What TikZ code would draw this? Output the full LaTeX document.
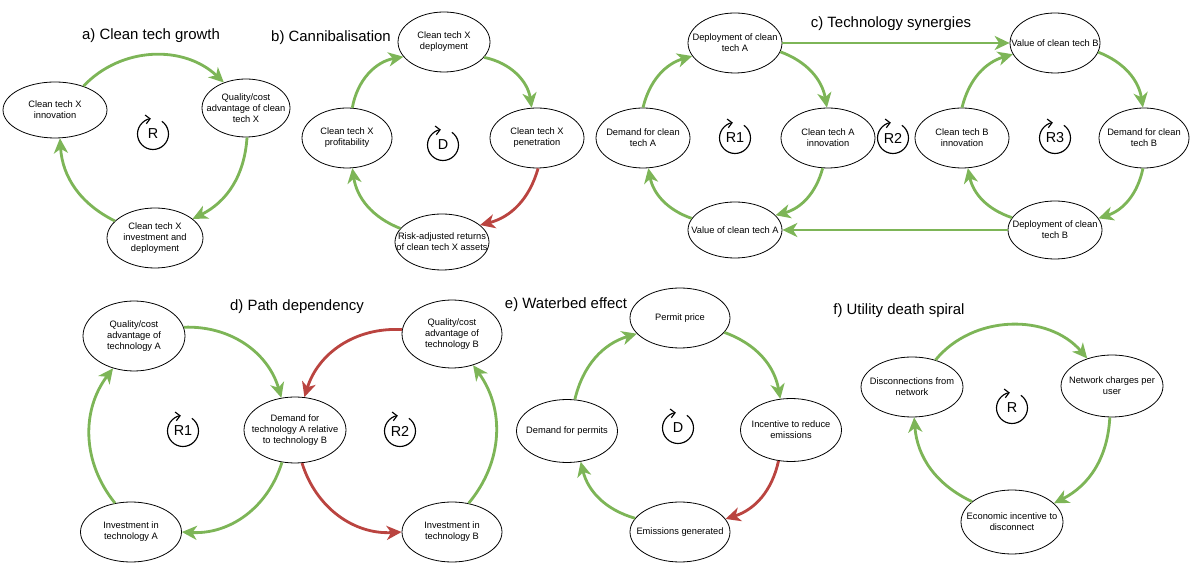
\documentclass[tikz,border=0pt]{standalone}
\usepackage{fontspec}
\setmainfont{Liberation Sans}
\usetikzlibrary{shapes.geometric,arrows.meta}
\definecolor{posgreen}{RGB}{125,181,87}
\definecolor{negred}{RGB}{186,68,64}
\newcommand{\nodefont}{\fontsize{5.3}{6.2}\selectfont}
\newcommand{\titlefont}{\fontsize{8.5}{10}\selectfont}

\begin{document}
\begin{tikzpicture}[x=0.02cm,y=-0.02cm]
\tikzstyle{var}=[ellipse,draw,line width=0.45pt,inner xsep=-8pt,inner ysep=-6pt,align=center,font=\nodefont,minimum width=1.88cm,minimum height=1.2cm]
\tikzstyle{poslink}=[draw=posgreen,line width=1.6pt,-{Stealth[length=8.5pt,width=8pt,inset=2.5pt]}]
\tikzstyle{neglink}=[poslink,draw=negred]
\tikzstyle{paneltitle}=[font=\titlefont,inner sep=0pt]
\tikzstyle{loopsign}=[font=\fontsize{8.2}{9}\selectfont,inner sep=0pt]
\tikzstyle{loopline}=[line width=0.65pt,-{Straight Barb[length=2.5pt,width=5pt]}]
\useasboundingbox (0,0) rectangle (1190,563);

% a) clean tech growth
\node[paneltitle] (ta) at (151,36) {a) Clean tech growth};
\node[var,minimum width=2.08cm,minimum height=1.12cm] (ainn) at (55,110) {Clean tech X\\innovation};
\node[var,minimum width=1.76cm,minimum height=1.16cm] (aqual) at (246,108) {Quality/cost\\advantage of clean\\tech X};
\node[var,minimum width=1.92cm] (ainv) at (155,238) {Clean tech X\\investment and\\deployment};
\node[loopsign] (la) at (153,134) {R};
\draw[loopline] (la.center) ++(55:0.31cm) arc[start angle=55,end angle=-262,radius=0.31cm];
\draw[poslink] (ainn.40) to[bend left=45] (aqual.131);
\draw[poslink] (aqual.-88) to[bend left=30] (ainv.27);
\draw[poslink] (ainv.157) to[bend left=30] (ainn.-80);

% b) cannibalisation
\node[paneltitle] (tb) at (331,38) {b) Cannibalisation};
\node[var,minimum width=1.84cm] (bdep) at (444,42) {Clean tech X\\deployment};
\node[var,minimum width=1.80cm] (bprof) at (347,138) {Clean tech X\\profitability};
\node[var] (bpen) at (537,138) {Clean tech X\\penetration};
\node[var,minimum height=1.12cm] (brisk) at (442,242) {Risk-adjusted returns\\of clean tech X assets};
\node[loopsign] (lb) at (443,145) {D};
\draw[loopline] (lb.center) ++(55:0.31cm) arc[start angle=55,end angle=-262,radius=0.31cm];
\draw[poslink] (bprof.80) to[bend left=35] (bdep.200);
\draw[poslink] (bdep.-21) to[bend left=35] (bpen.100);
\draw[neglink] (bpen.-88) to[bend left=30] (brisk.24);
\draw[poslink] (brisk.162) to[bend left=30] (bprof.-80);

% c) technology synergies
\node[paneltitle] (tc) at (891,24) {c) Technology synergies};
\node[var] (cdepa) at (735,43) {Deployment of clean\\tech A};
\node[var] (cdema) at (643,138) {Demand for clean\\tech A};
\node[var] (cinna) at (828,138) {Clean tech A\\innovation};
\node[var,minimum height=1.12cm] (cvala) at (735,230) {Value of clean tech A};
\node[var,minimum width=1.80cm] (cvalb) at (1055,43) {Value of clean tech B};
\node[var] (cinnb) at (962,138) {Clean tech B\\innovation};
\node[var,minimum width=1.80cm] (cdemb) at (1144,138) {Demand for clean\\tech B};
\node[var,minimum height=1.16cm] (cdepb) at (1055,230) {Deployment of clean\\tech B};
\node[loopsign] (lc1) at (735,138) {R1};
\draw[loopline] (lc1.center) ++(55:0.31cm) arc[start angle=55,end angle=-262,radius=0.31cm];
\node[loopsign] (lc2) at (893,138) {R2};
\draw[loopline] (lc2.center) ++(55:0.31cm) arc[start angle=55,end angle=-262,radius=0.31cm];
\node[loopsign] (lc3) at (1055,138) {R3};
\draw[loopline] (lc3.center) ++(55:0.31cm) arc[start angle=55,end angle=-262,radius=0.31cm];
\draw[poslink] (cdema.90) to[bend left=30] (cdepa.197);
\draw[poslink] (cdepa.-11) to[bend left=30] (cinna.92);
\draw[poslink] (cinna.-100) to[bend left=30] (cvala.20);
\draw[poslink] (cvala.165) to[bend left=30] (cdema.-80);
\draw[poslink] (cdepa.east) -- (cvalb.west);
\draw[poslink] (cdepb.west) -- (cvala.east);
\draw[poslink] (cinnb.90) to[bend left=30] (cvalb.195);
\draw[poslink] (cvalb.-12) to[bend left=30] (cdemb.92);
\draw[poslink] (cdemb.-92) to[bend left=30] (cdepb.15);
\draw[poslink] (cdepb.164) to[bend left=30] (cinnb.-79);

% d) path dependency
\node[paneltitle] (td) at (297,307) {d) Path dependency};
\node[var,minimum width=2.04cm,minimum height=1.4cm] (dqa) at (134,336) {Quality/cost\\advantage of\\technology A};
\node[var,minimum width=2.0cm,minimum height=1.36cm] (dqb) at (452,334) {Quality/cost\\advantage of\\technology B};
\node[var,minimum width=2.04cm,minimum height=1.32cm] (ddem) at (295,430) {Demand for\\technology A relative\\to technology B};
\node[var,minimum width=2.02cm] (dinva) at (131,532) {Investment in\\technology A};
\node[var,minimum width=2.0cm] (dinvb) at (452,532) {Investment in\\technology B};
\node[loopsign] (ld1) at (183,431) {R1};
\draw[loopline] (ld1.center) ++(55:0.31cm) arc[start angle=55,end angle=-262,radius=0.31cm];
\node[loopsign] (ld2) at (400,431) {R2};
\draw[loopline] (ld2.center) ++(55:0.31cm) arc[start angle=55,end angle=-262,radius=0.31cm];
\draw[poslink] (dqa.10) to[bend left=38] (ddem.113);
\draw[neglink] (dqb.175) to[bend right=38] (ddem.74);
\draw[poslink] (ddem.248) to[bend left=38] (dinva.0);
\draw[neglink] (ddem.282) to[bend right=38] (dinvb.180);
\draw[poslink] (dinva.119) to[bend left=38] (dqa.237);
\draw[poslink] (dinvb.60) to[bend right=38] (dqb.304);

% e) waterbed effect
\node[paneltitle] (te) at (566,305) {e) Waterbed effect};
\node[var,minimum width=2.0cm] (eprice) at (680,318) {Permit price};
\node[var,minimum width=2.02cm,minimum height=1.26cm] (edem) at (567,431) {Demand for permits};
\node[var,minimum width=2.02cm,minimum height=1.26cm] (einc) at (791,430) {Incentive to reduce\\emissions};
\node[var,minimum width=2.0cm] (eemi) at (680,532) {Emissions generated};
\node[loopsign] (le) at (678,428) {D};
\draw[loopline] (le.center) ++(55:0.31cm) arc[start angle=55,end angle=-262,radius=0.31cm];
\draw[poslink] (edem.76) to[bend left=30] (eprice.200);
\draw[poslink] (eprice.-18) to[bend left=30] (einc.109);
\draw[neglink] (einc.248) to[bend left=30] (eemi.16);
\draw[poslink] (eemi.163) to[bend left=30] (edem.-66);

% f) utility death spiral
\node[paneltitle] (tf) at (899,311) {f) Utility death spiral};
\node[var,minimum width=2.04cm] (fdisc) at (912,387) {Disconnections from\\network};
\node[var,minimum width=2.04cm,minimum height=1.24cm] (fnet) at (1112,386) {Network charges per\\user};
\node[var,minimum width=2.04cm,minimum height=1.28cm] (fecon) at (1012,522) {Economic incentive to\\disconnect};
\node[loopsign] (lf) at (1012,408) {R};
\draw[loopline] (lf.center) ++(55:0.31cm) arc[start angle=55,end angle=-262,radius=0.31cm];
\draw[poslink] (fdisc.49) to[bend left=50] (fnet.132);
\draw[poslink] (fnet.266) to[bend left=30] (fecon.24);
\draw[poslink] (fecon.153) to[bend left=30] (fdisc.274);
\end{tikzpicture}
\end{document}
